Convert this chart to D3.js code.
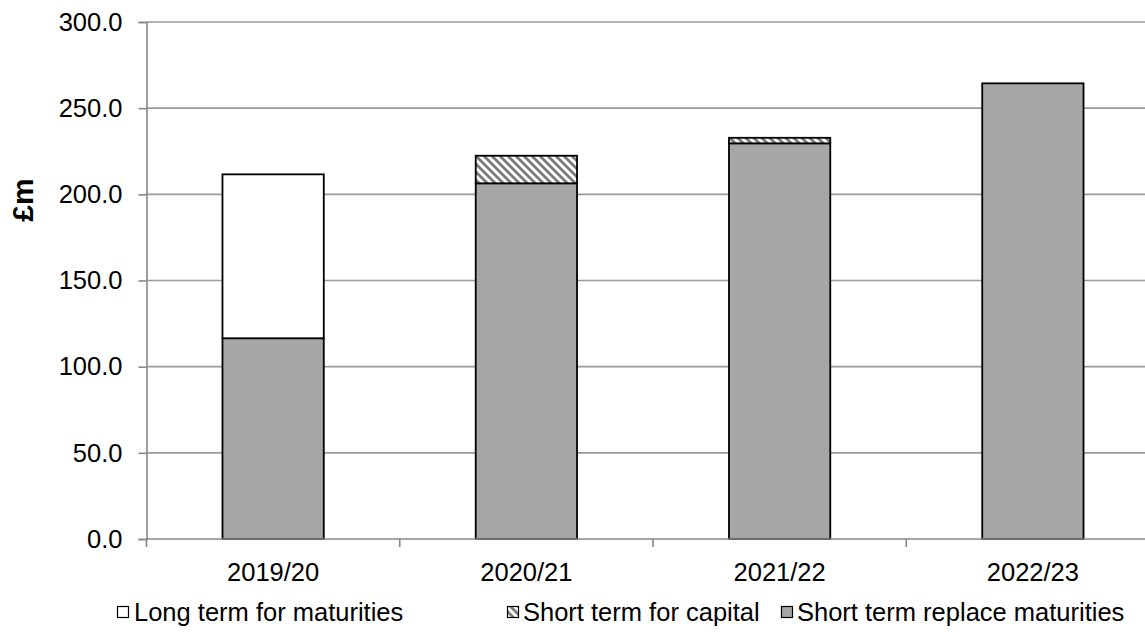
<!DOCTYPE html>
<html>
<head>
<meta charset="utf-8">
<script src="https://cdn.jsdelivr.net/npm/d3@7"></script>
<style>
  html, body { margin: 0; padding: 0; background: #fff; }
  svg { display: block; font-family: "Liberation Sans", Arial, sans-serif; }
</style>
</head>
<body>
<svg id="chart" width="1145" height="634"></svg>
<script>
const categories = ["2019/20", "2020/21", "2021/22", "2022/23"];
const shortReplace = [116.5, 206.4, 229.6, 264.4];
const shortCapital = [0, 16.0, 3.2, 0];
const longTerm = [95.1, 0, 0, 0];
const yTicks = [0, 50, 100, 150, 200, 250, 300];
const seriesNames = ["Long term for maturities", "Short term for capital", "Short term replace maturities"];
const yLabel = "£m";

const FS = 25.5;
const svg = d3.select("#chart");
const defs = svg.append("defs");
const pat = defs.append("pattern")
  .attr("id", "hatch").attr("patternUnits", "userSpaceOnUse")
  .attr("width", 8).attr("height", 8);
pat.append("rect").attr("width", 8).attr("height", 8).attr("fill", "#fff");
pat.append("path").attr("d", "M-2,-2 L10,10 M-2,6 L2,10 M6,-2 L10,2")
  .attr("stroke", "#7a7a7a").attr("stroke-width", 2.8);

const x = d3.scaleBand().domain(categories).range([146.5, 1159.5]);
const y = d3.scaleLinear().domain([0, 300]).range([539, 22]);

// gridlines
svg.append("g").selectAll("line").data(yTicks.filter(d => d > 0)).join("line")
  .attr("x1", 146.5).attr("x2", 1145)
  .attr("y1", d => y(d)).attr("y2", d => y(d))
  .attr("stroke", "#9a9a9a").attr("stroke-width", 1.6);

// y axis
const yAxis = svg.append("g").attr("transform", "translate(146.5,0)")
  .call(d3.axisLeft(y).tickValues(yTicks).tickFormat(d3.format(".1f")).tickSize(8).tickPadding(16));
yAxis.select(".domain").attr("stroke", "#888").attr("stroke-width", 1.6);
yAxis.selectAll(".tick line").attr("stroke", "#888").attr("stroke-width", 1.6);
yAxis.selectAll("text").attr("font-size", FS).attr("fill", "#000")
  .attr("font-family", "'Liberation Sans', Arial, sans-serif");

// stacked bars
const stackData = categories.map((c, i) => ({cat: c, sr: shortReplace[i], sc: shortCapital[i], lt: longTerm[i]}));
const stack = d3.stack().keys(["sr", "sc", "lt"])(stackData);
const fills = {sr: "#a6a6a6", sc: "url(#hatch)", lt: "#ffffff"};
const bw = x.bandwidth() * 0.4;
stack.forEach(layer => {
  svg.append("g").selectAll("rect").data(layer.filter(d => d[1] - d[0] > 0)).join("rect")
    .attr("x", d => x(d.data.cat) + (x.bandwidth() - bw) / 2)
    .attr("width", bw)
    .attr("y", d => y(d[1]))
    .attr("height", d => y(d[0]) - y(d[1]))
    .attr("fill", fills[layer.key])
    .attr("stroke", "#000").attr("stroke-width", 1.8);
});

// x axis
const xg = svg.append("g");
xg.append("line").attr("x1", 146.5).attr("x2", 1145).attr("y1", y(0)).attr("y2", y(0))
  .attr("stroke", "#888").attr("stroke-width", 1.6);
const bounds = categories.map(c => x(c)).concat([x.range()[1]]);
xg.selectAll("line.t").data(bounds).join("line").attr("class", "t")
  .attr("x1", d => d).attr("x2", d => d).attr("y1", y(0)).attr("y2", y(0) + 8)
  .attr("stroke", "#888").attr("stroke-width", 1.6);
xg.selectAll("text").data(categories).join("text")
  .attr("x", d => x(d) + x.bandwidth() / 2).attr("y", 581)
  .attr("text-anchor", "middle").attr("font-size", FS).text(d => d);

// y label
svg.append("text").attr("transform", "translate(33,200) rotate(-90)")
  .attr("text-anchor", "middle").attr("font-size", 30).attr("font-weight", "bold").text(yLabel);

// legend
const markerX = [117, 507, 781];
const textX = [134, 523, 797];
const legendFill = ["#ffffff", "url(#hatch)", "#a6a6a6"];
const lg = svg.append("g");
seriesNames.forEach((n, i) => {
  lg.append("rect").attr("x", markerX[i] + 0.5).attr("y", 606.5).attr("width", 11).attr("height", 11)
    .attr("fill", legendFill[i]).attr("stroke", "#000").attr("stroke-width", 1.2);
  lg.append("text").attr("x", textX[i]).attr("y", 621).attr("font-size", FS).text(n);
});
</script>
</body>
</html>
